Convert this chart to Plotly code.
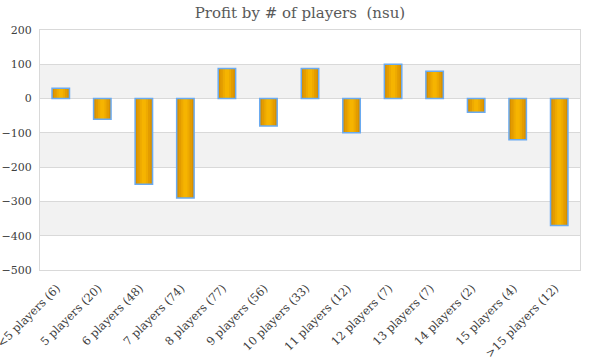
import plotly.graph_objects as go

categories = ["<5 players (6)", "5 players (20)", "6 players (48)", "7 players (74)",
              "8 players (77)", "9 players (56)", "10 players (33)", "11 players (12)",
              "12 players (7)", "13 players (7)", "14 players (2)", "15 players (4)",
              ">15 players (12)"]
profit = [30, -60, -250, -290, 88, -80, 88, -100, 100, 80, -40, -120, -370]
y_ticks = [200, 100, 0, -100, -200, -300, -400, -500]

fig = go.Figure()

# shaded alternating bands
for lo, hi in [(0, 100), (-200, -100), (-400, -300)]:
    fig.add_shape(type="rect", xref="paper", yref="y", x0=0, x1=1, y0=lo, y1=hi,
                  fillcolor="#f2f2f2", line_width=0, layer="below")

# gradient approximation layers
layers = [(0.42, "#d68f00"), (0.32, "#e39c00"), (0.2, "#eeaa00"), (0.1, "#f6b400")]
for w, c in layers:
    fig.add_trace(go.Bar(x=categories, y=profit, width=w, marker=dict(color=c, line_width=0),
                         hoverinfo="skip", showlegend=False))
# outline
fig.add_trace(go.Bar(x=categories, y=profit, width=0.42,
                     marker=dict(color="rgba(0,0,0,0)", line=dict(color="#6aaaf0", width=1.5)),
                     showlegend=False))

fig.update_layout(
    width=600, height=360,
    barmode="overlay",
    paper_bgcolor="white", plot_bgcolor="white",
    margin=dict(l=40, r=20, t=30, b=90),
    title=dict(text="Profit by # of players  (nsu)", x=0.5, xanchor="center",
               y=0.965, yanchor="middle",
               font=dict(family="DejaVu Serif", size=15, color="#595959")),
    font=dict(family="DejaVu Serif", size=11, color="#404040"),
)
fig.update_xaxes(showgrid=False, tickangle=-45, showline=True, linecolor="#d9d9d9",
                 mirror=True, ticks="", automargin=False,
                 ticklabelstandoff=6, ticklabelshift=-4,
                 tickfont=dict(size=11.5, color="#404040"))
fig.update_yaxes(range=[-500, 200], tickvals=y_ticks, showgrid=True, gridcolor="#d9d9d9",
                 showline=True, linecolor="#d9d9d9", mirror=True, zeroline=True,
                 zerolinecolor="#d9d9d9", zerolinewidth=1, ticks="", automargin=False,
                 ticklabelstandoff=5,
                 tickfont=dict(size=11, color="#404040"))

fig.write_html("out.html", config={"displayModeBar": False},
               post_script="document.body.style.margin='0';")
